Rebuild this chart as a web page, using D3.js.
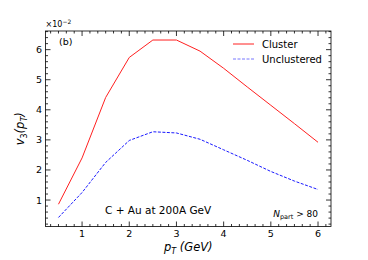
<!DOCTYPE html>
<html>
<head>
<meta charset="utf-8">
<script src="https://cdn.jsdelivr.net/npm/d3@7"></script>
<style>
  body { margin: 0; background: #fff; }
  text { font-family: "DejaVu Sans", sans-serif; fill: #000; }
</style>
</head>
<body>
<script>
// pT values (GeV) and v3 (x 10^-2)
var pt = [0.5, 1, 1.5, 2, 2.5, 3, 3.5, 4, 4.5, 5, 5.5, 6]
var cluster = [0.86, 2.4, 4.41, 5.74, 6.32, 6.32, 5.95, 5.38, 4.76, 4.15, 3.54, 2.92]
var unclustered = [0.42, 1.25, 2.25, 2.98, 3.27, 3.23, 3.02, 2.67, 2.32, 1.95, 1.63, 1.35]
var xTicks = [1, 2, 3, 4, 5, 6]
var yTicks = [1, 2, 3, 4, 5, 6]

var width = 368, height = 260
var m = { left: 45.5, top: 31, right: 37, bottom: 33.5 }

var svg = d3.select('body').append('svg')
  .attr('width', width)
  .attr('height', height)

var x = d3.scaleLinear().domain([0.225, 6.275]).range([m.left, width - m.right])
var y = d3.scaleLinear().domain([0.12, 6.62]).range([height - m.bottom, m.top])

var x0 = m.left, x1 = width - m.right, y0 = height - m.bottom, y1 = m.top

// minor ticks
var xMinor = d3.range(0, 40).map(function (i) { return i / 6 })
  .filter(function (v) { return v > 0.225 && v < 6.275 && Math.abs(v - Math.round(v)) > 1e-6 })
var yMinor = d3.range(0, 34).map(function (i) { return i * 0.2 })
  .filter(function (v) { return v > 0.12 && v < 6.62 && Math.abs(v - Math.round(v)) > 1e-6 })

var g = svg.append('g').attr('stroke', '#000').attr('stroke-width', 0.8)

function tickLines (vals, len, horizontal) {
  vals.forEach(function (v) {
    if (horizontal) {
      g.append('line').attr('x1', x(v)).attr('x2', x(v)).attr('y1', y0).attr('y2', y0 - len)
      g.append('line').attr('x1', x(v)).attr('x2', x(v)).attr('y1', y1).attr('y2', y1 + len)
    } else {
      g.append('line').attr('y1', y(v)).attr('y2', y(v)).attr('x1', x0).attr('x2', x0 + len)
      g.append('line').attr('y1', y(v)).attr('y2', y(v)).attr('x1', x1).attr('x2', x1 - len)
    }
  })
}
tickLines(xTicks, 5, true)
tickLines(xMinor, 2.5, true)
tickLines(yTicks, 5, false)
tickLines(yMinor, 2.5, false)

// tick labels
svg.append('g').selectAll('text').data(xTicks).enter().append('text')
  .attr('x', function (d) { return x(d) })
  .attr('y', y0 + 10.5)
  .attr('text-anchor', 'middle')
  .attr('font-size', 9.5)
  .text(function (d) { return d })

svg.append('g').selectAll('text').data(yTicks).enter().append('text')
  .attr('x', x0 - 3.5)
  .attr('y', function (d) { return y(d) + 3.5 })
  .attr('text-anchor', 'end')
  .attr('font-size', 9.5)
  .text(function (d) { return d })

// lines
var line = d3.line()
  .x(function (d, i) { return x(pt[i]) })
  .y(function (d) { return y(d) })

svg.append('path').datum(cluster)
  .attr('d', line)
  .attr('fill', 'none')
  .attr('stroke', '#ff2020')
  .attr('stroke-width', 1)

svg.append('path').datum(unclustered)
  .attr('d', line)
  .attr('fill', 'none')
  .attr('stroke', '#1a1aff')
  .attr('stroke-width', 1)
  .attr('stroke-dasharray', '3,1.5')

// frame
svg.append('rect')
  .attr('x', x0).attr('y', y1)
  .attr('width', x1 - x0).attr('height', y0 - y1)
  .attr('fill', 'none').attr('stroke', '#000').attr('stroke-width', 0.8)

// offset text
var off = svg.append('text').attr('x', x0).attr('y', y1 - 4).attr('font-size', 8)
off.append('tspan').text('×10')
off.append('tspan').attr('dy', -3.5).attr('font-size', 6).text('−2')

svg.append('text').attr('x', 59).attr('y', 45).attr('font-size', 9.5).text('(b)')

// legend
var legend = [
  { name: 'Cluster', color: '#ff2020', dash: null, y: 44 },
  { name: 'Unclustered', color: '#7777ff', dash: '3,1.5', y: 59 }
]
legend.forEach(function (d) {
  svg.append('line').attr('x1', 233).attr('x2', 254).attr('y1', d.y).attr('y2', d.y)
    .attr('stroke', d.color).attr('stroke-width', 1)
    .attr('stroke-dasharray', d.dash)
  svg.append('text').attr('x', 262).attr('y', d.y + 3.5).attr('font-size', 10).text(d.name)
})

// annotations
svg.append('text').attr('x', 105).attr('y', 214).attr('font-size', 10.5).text('C + Au at 200A GeV')
var np = svg.append('text').attr('x', 318).attr('y', 217).attr('text-anchor', 'end').attr('font-size', 9)
np.append('tspan').attr('font-style', 'italic').text('N')
np.append('tspan').attr('font-size', 6.5).attr('dy', 2).text('part')
np.append('tspan').attr('dy', -2).text(' > 80')

// axis labels
var xl = svg.append('text').attr('x', x((0.225 + 6.275) / 2)).attr('y', 251)
  .attr('text-anchor', 'middle').attr('font-size', 11.5).attr('font-style', 'italic')
xl.append('tspan').text('p')
xl.append('tspan').attr('font-size', 8).attr('dy', 2.5).text('T')
xl.append('tspan').attr('dy', -2.5).text(' (GeV)')

var yl = svg.append('text')
  .attr('transform', 'translate(24,' + ((y0 + y1) / 2) + ') rotate(-90)')
  .attr('text-anchor', 'middle').attr('font-size', 11.5).attr('font-style', 'italic')
yl.append('tspan').text('v')
yl.append('tspan').attr('font-size', 8).attr('dy', 2.5).attr('font-style', 'normal').text('3')
yl.append('tspan').attr('dy', -2.5).text('(p')
yl.append('tspan').attr('font-size', 8).attr('dy', 2.5).text('T')
yl.append('tspan').attr('dy', -2.5).text(')')
</script>
</body>
</html>
